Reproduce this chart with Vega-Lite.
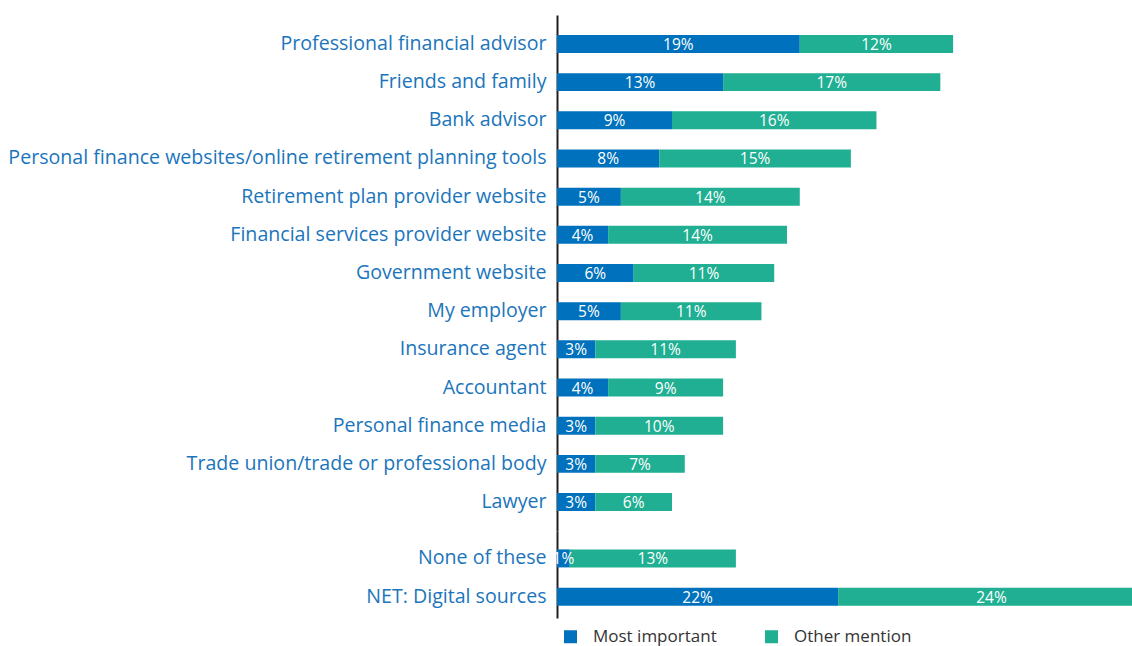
{
  "$schema": "https://vega.github.io/schema/vega-lite/v6.json",
  "padding": {"left": 0, "top": 15, "right": 0, "bottom": 0},
  "spacing": 0,
  "datasets": {
    "main": [
      {"cat": "Professional financial advisor", "series": "Most important", "value": 0.19},
      {"cat": "Professional financial advisor", "series": "Other mention", "value": 0.12},
      {"cat": "Friends and family", "series": "Most important", "value": 0.13},
      {"cat": "Friends and family", "series": "Other mention", "value": 0.17},
      {"cat": "Bank advisor", "series": "Most important", "value": 0.09},
      {"cat": "Bank advisor", "series": "Other mention", "value": 0.16},
      {"cat": "Personal finance websites/online retirement planning tools", "series": "Most important", "value": 0.08},
      {"cat": "Personal finance websites/online retirement planning tools", "series": "Other mention", "value": 0.15},
      {"cat": "Retirement plan provider website", "series": "Most important", "value": 0.05},
      {"cat": "Retirement plan provider website", "series": "Other mention", "value": 0.14},
      {"cat": "Financial services provider website", "series": "Most important", "value": 0.04},
      {"cat": "Financial services provider website", "series": "Other mention", "value": 0.14},
      {"cat": "Government website", "series": "Most important", "value": 0.06},
      {"cat": "Government website", "series": "Other mention", "value": 0.11},
      {"cat": "My employer", "series": "Most important", "value": 0.05},
      {"cat": "My employer", "series": "Other mention", "value": 0.11},
      {"cat": "Insurance agent", "series": "Most important", "value": 0.03},
      {"cat": "Insurance agent", "series": "Other mention", "value": 0.11},
      {"cat": "Accountant", "series": "Most important", "value": 0.04},
      {"cat": "Accountant", "series": "Other mention", "value": 0.09},
      {"cat": "Personal finance media", "series": "Most important", "value": 0.03},
      {"cat": "Personal finance media", "series": "Other mention", "value": 0.10},
      {"cat": "Trade union/trade or professional body", "series": "Most important", "value": 0.03},
      {"cat": "Trade union/trade or professional body", "series": "Other mention", "value": 0.07},
      {"cat": "Lawyer", "series": "Most important", "value": 0.03},
      {"cat": "Lawyer", "series": "Other mention", "value": 0.06}
    ],
    "extra": [
      {"cat": "None of these", "series": "Most important", "value": 0.01},
      {"cat": "None of these", "series": "Other mention", "value": 0.13},
      {"cat": "NET: Digital sources", "series": "Most important", "value": 0.22},
      {"cat": "NET: Digital sources", "series": "Other mention", "value": 0.24}
    ]
  },
  "config": {
    "view": {"stroke": null},
    "font": "Open Sans",
    "axisY": {
      "title": null,
      "domain": true,
      "domainColor": "#231f20",
      "domainWidth": 2,
      "ticks": false,
      "labelFontSize": 19.6,
      "labelColor": "#1B75BB",
      "labelPadding": 11,
      "labelLimit": 700,
      "minExtent": 557,
      "maxExtent": 557,
      "labelFont": "Open Sans"
    },
    "legend": {
      "orient": "bottom",
      "direction": "horizontal",
      "symbolType": "square",
      "symbolSize": 169,
      "symbolStrokeWidth": 0,
      "labelFontSize": 17,
      "labelColor": "#333333",
      "labelFont": "Open Sans",
      "labelOffset": 14,
      "columnPadding": 46,
      "padding": 5,
      "offset": 5
    }
  },
  "vconcat": [
    {
      "data": {"name": "main"},
      "width": 575,
      "height": 516,
      "transform": [
        {"stack": "value", "groupby": ["cat"], "sort": [{"field": "series"}], "as": ["v0", "v1"]},
        {"calculate": "(datum.v0 + datum.v1) / 2", "as": "mid"}
      ],
      "encoding": {
        "y": {
          "field": "cat", "type": "nominal", "sort": null,
          "scale": {"paddingInner": 0.53, "paddingOuter": 0.524}
        }
      },
      "layer": [
        {
          "mark": {"type": "bar", "clip": true},
          "encoding": {
            "x": {"field": "v0", "type": "quantitative", "scale": {"domain": [0, 0.45]}, "axis": null},
            "x2": {"field": "v1"},
            "color": {
              "field": "series", "type": "nominal", "title": null,
              "scale": {"domain": ["Most important", "Other mention"], "range": ["#0071BC", "#20AF92"]}
            }
          }
        },
        {
          "mark": {"type": "text", "color": "white", "fontSize": 15.5, "font": "Open Sans", "dy": 1},
          "encoding": {
            "x": {"field": "mid", "type": "quantitative", "scale": {"domain": [0, 0.45]}, "axis": null},
            "text": {"field": "value", "type": "quantitative", "format": ".0%"}
          }
        }
      ]
    },
    {
      "data": {"name": "extra"},
      "width": 575,
      "height": 87,
      "transform": [
        {"stack": "value", "groupby": ["cat"], "sort": [{"field": "series"}], "as": ["v0", "v1"]},
        {"calculate": "(datum.v0 + datum.v1) / 2", "as": "mid"}
      ],
      "encoding": {
        "y": {
          "field": "cat", "type": "nominal", "sort": null,
          "scale": {"paddingInner": 0.53, "paddingOuter": 0.4, "align": 0.6}
        }
      },
      "layer": [
        {
          "mark": {"type": "bar", "clip": true},
          "encoding": {
            "x": {"field": "v0", "type": "quantitative", "scale": {"domain": [0, 0.45]}, "axis": null},
            "x2": {"field": "v1"},
            "color": {
              "field": "series", "type": "nominal", "title": null,
              "scale": {"domain": ["Most important", "Other mention"], "range": ["#0071BC", "#20AF92"]}
            }
          }
        },
        {
          "mark": {"type": "text", "color": "white", "fontSize": 15.5, "font": "Open Sans", "dy": 1},
          "encoding": {
            "x": {"field": "mid", "type": "quantitative", "scale": {"domain": [0, 0.45]}, "axis": null},
            "text": {"field": "value", "type": "quantitative", "format": ".0%"}
          }
        }
      ]
    }
  ]
}
